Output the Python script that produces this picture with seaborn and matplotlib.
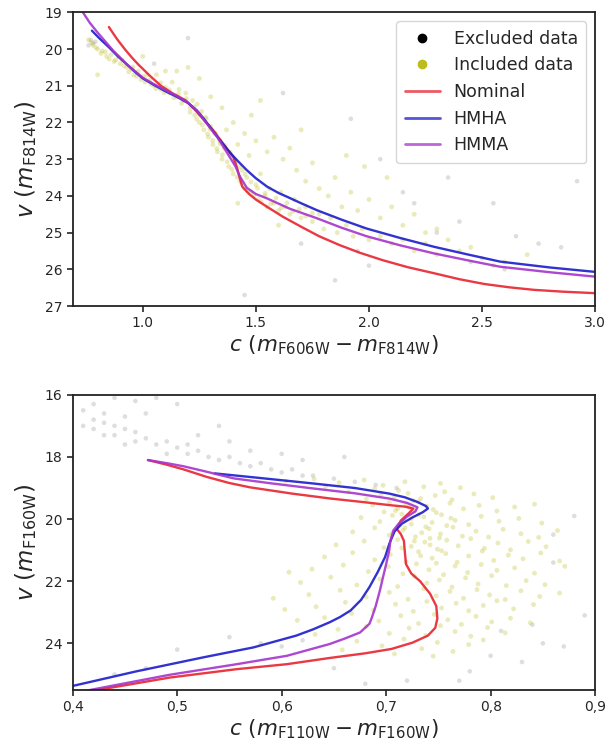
import numpy as np
import matplotlib
matplotlib.use("Agg")
import matplotlib.pyplot as plt
from matplotlib.lines import Line2D
from matplotlib.ticker import FuncFormatter
import seaborn as sns

# --- isochrones, top panel (F606W-F814W vs F814W) ---
top_nominal_c = [0.85, 0.885, 0.92, 0.95, 0.98, 1.03, 1.08, 1.13, 1.19, 1.23, 1.27, 1.31, 1.34, 1.37, 1.40,
                 1.415, 1.43, 1.44, 1.47, 1.50, 1.55, 1.62, 1.70, 1.78, 1.87, 1.96, 2.06, 2.17, 2.29, 2.40,
                 2.51, 2.62, 2.73, 2.86, 3.0]
top_nominal_v = [19.4, 19.72, 20.0, 20.22, 20.42, 20.72, 21.0, 21.2, 21.4, 21.65, 21.93, 22.2, 22.45, 22.7, 22.94,
                 23.2, 23.55, 23.75, 23.95, 24.1, 24.30, 24.57, 24.84, 25.1, 25.34, 25.55, 25.75, 25.94, 26.11, 26.27,
                 26.40, 26.49, 26.56, 26.61, 26.65]
top_hmha_c = [0.775, 0.81, 0.85, 0.89, 0.93, 0.965, 1.0, 1.05, 1.1, 1.15, 1.2, 1.24, 1.27, 1.30, 1.33, 1.36,
              1.39, 1.42, 1.46, 1.50, 1.55, 1.60, 1.64, 1.70, 1.77, 1.88, 1.99, 2.14, 2.29, 2.44, 2.58, 2.8, 3.0]
top_hmha_v = [19.5, 19.72, 19.95, 20.2, 20.42, 20.62, 20.8, 20.98, 21.15, 21.3, 21.47, 21.68, 21.9, 22.15, 22.4, 22.63,
              22.85, 23.05, 23.3, 23.52, 23.75, 23.92, 24.03, 24.2, 24.39, 24.65, 24.89, 25.15, 25.39, 25.6, 25.79, 25.95, 26.07]
top_hmma_c = [0.735, 0.765, 0.80, 0.835, 0.87, 0.93, 0.965, 1.0, 1.05, 1.1, 1.15, 1.2, 1.24, 1.27, 1.30, 1.33,
              1.355, 1.38, 1.41, 1.43, 1.46, 1.50, 1.55, 1.65, 1.77, 1.88, 1.99, 2.14, 2.29, 2.44, 2.58, 2.8, 3.0]
top_hmma_v = [19.0, 19.28, 19.55, 19.8, 20.05, 20.42, 20.6, 20.78, 20.96, 21.12, 21.28, 21.46, 21.68, 21.93, 22.17, 22.4,
              22.65, 22.9, 23.2, 23.48, 23.78, 23.95, 24.07, 24.35, 24.61, 24.87, 25.10, 25.35, 25.57, 25.76, 25.93, 26.08, 26.20]

# --- isochrones, bottom panel (F110W-F160W vs F160W) ---
bot_nominal_c = [0.472, 0.49, 0.506, 0.528, 0.55, 0.570, 0.61, 0.647, 0.68, 0.703, 0.718, 0.726, 0.722, 0.714,
                 0.710, 0.714, 0.717, 0.718, 0.719, 0.724, 0.7325, 0.742, 0.748, 0.749, 0.747, 0.740, 0.725, 0.705,
                 0.68, 0.646, 0.605, 0.557, 0.493, 0.429, 0.415]
bot_nominal_v = [18.10, 18.25, 18.4, 18.64, 18.84, 18.98, 19.18, 19.34, 19.46, 19.55, 19.6, 19.66, 19.8, 20.05,
                 20.31, 20.48, 20.7, 21.1, 21.45, 21.75, 22.0, 22.4, 22.8, 23.2, 23.5, 23.75, 23.98, 24.18,
                 24.32, 24.47, 24.67, 24.83, 25.10, 25.47, 25.53]
bot_hmha_c = [0.536, 0.58, 0.629, 0.67, 0.703, 0.718, 0.730, 0.738, 0.740, 0.735, 0.725, 0.715, 0.708, 0.703,
              0.699, 0.692, 0.684, 0.676, 0.666, 0.656, 0.646, 0.630, 0.614, 0.573, 0.525, 0.461, 0.40]
bot_hmha_v = [18.53, 18.68, 18.85, 19.0, 19.18, 19.3, 19.45, 19.58, 19.66, 19.78, 19.95, 20.15, 20.4, 20.8,
              21.22, 21.7, 22.19, 22.6, 22.94, 23.15, 23.32, 23.55, 23.75, 24.13, 24.45, 24.90, 25.37]
bot_hmma_c = [0.472, 0.49, 0.506, 0.525, 0.554, 0.59, 0.629, 0.67, 0.703, 0.72, 0.730, 0.728, 0.720, 0.712,
              0.707, 0.704, 0.703, 0.700, 0.697, 0.694, 0.690, 0.686, 0.684, 0.675, 0.66, 0.646, 0.605,
              0.557, 0.493, 0.429, 0.412]
bot_hmma_v = [18.10, 18.2, 18.3, 18.45, 18.69, 18.85, 19.01, 19.17, 19.34, 19.48, 19.62, 19.75, 19.92, 20.15,
              20.36, 20.7, 21.0, 21.45, 21.87, 22.3, 22.8, 23.2, 23.37, 23.65, 23.85, 24.02, 24.40,
              24.67, 25.01, 25.42, 25.53]

# --- photometry, top panel ---
top_incl = np.array([
    [0.76, 19.75], [0.78, 19.9], [0.80, 20.0], [0.82, 20.05], [0.84, 20.2], [0.86, 20.15], [0.88, 20.3],
    [0.90, 20.4], [0.91, 20.3], [0.93, 20.5], [0.95, 20.55], [0.96, 20.7], [0.98, 20.6], [1.00, 20.75],
    [1.01, 20.9], [1.03, 20.85], [1.05, 21.0], [1.06, 20.7], [1.08, 21.1], [1.10, 21.05], [1.10, 20.6],
    [1.12, 21.2], [1.13, 20.9], [1.15, 21.3], [1.16, 21.1], [1.18, 21.4], [1.19, 21.2], [1.20, 20.5],
    [1.21, 21.6], [1.22, 21.4], [1.23, 21.8], [1.24, 21.5], [1.25, 22.0], [1.26, 21.7], [1.27, 22.2],
    [1.28, 21.9], [1.29, 22.4], [1.30, 22.1], [1.30, 21.3], [1.31, 22.6], [1.32, 22.3], [1.33, 22.8],
    [1.34, 22.5], [1.35, 23.0], [1.36, 22.7], [1.37, 22.2], [1.38, 23.2], [1.39, 22.9], [1.40, 23.4],
    [1.41, 23.1], [1.42, 22.6], [1.43, 23.6], [1.44, 23.3], [1.45, 23.8], [1.46, 23.5], [1.47, 22.9],
    [1.48, 23.9], [1.50, 23.7], [1.51, 24.1], [1.52, 23.4], [1.54, 24.0], [1.55, 24.3], [1.56, 23.8],
    [1.58, 24.2], [1.60, 24.4], [1.61, 23.9], [1.63, 24.3], [1.65, 24.5], [1.67, 24.1], [1.70, 24.6],
    [1.72, 24.3], [1.75, 24.7], [1.78, 24.5], [1.80, 24.9], [1.83, 24.6], [1.86, 25.0], [1.90, 24.8],
    [1.93, 25.1], [1.97, 24.9], [2.00, 25.2], [2.05, 25.1], [2.10, 25.3], [2.15, 25.2], [2.20, 25.5],
    [2.25, 25.3], [2.30, 25.6], [2.40, 25.5], [2.50, 25.7], [2.60, 25.8],
    [1.35, 21.6], [1.40, 22.0], [1.45, 22.3], [1.50, 22.5], [1.48, 21.8], [1.55, 22.8], [1.58, 22.4],
    [1.62, 23.0], [1.65, 22.7], [1.68, 23.3], [1.72, 23.6], [1.75, 23.1], [1.78, 23.8], [1.82, 24.0],
    [1.85, 23.5], [1.88, 24.3], [1.92, 23.9], [1.95, 24.4], [2.00, 24.1], [2.05, 24.6], [2.10, 24.3],
    [2.15, 24.8], [2.20, 24.5], [2.25, 25.0], [2.30, 24.9], [2.35, 25.2], [1.70, 22.2], [1.90, 22.9],
    [2.08, 23.5], [1.25, 20.8], [1.15, 20.6], [1.00, 20.2], [0.80, 20.7], [1.42, 24.2], [1.60, 24.8],
    [2.45, 25.4], [2.55, 25.9], [2.70, 25.6], [1.52, 21.4], [1.98, 23.2],
    [0.772, 19.82], [0.793, 19.96], [0.815, 20.12], [0.834, 20.08], [0.851, 20.27], [0.873, 20.34],
    [0.892, 20.21], [0.917, 20.46], [0.938, 20.62], [0.956, 20.49], [0.973, 20.74], [0.992, 20.83],
    [1.017, 20.71], [1.036, 20.96], [1.058, 21.08], [1.079, 20.92], [1.094, 21.19], [1.117, 21.11],
    [1.137, 21.33], [1.158, 21.22], [1.171, 21.48], [1.193, 21.35], [1.209, 21.72], [1.226, 21.58],
    [1.238, 21.91], [1.252, 21.79], [1.263, 22.07], [1.277, 21.86], [1.286, 22.31], [1.297, 22.18],
    [1.309, 22.49], [1.318, 22.29], [1.327, 22.71], [1.341, 22.58], [1.352, 22.88], [1.364, 22.63],
    [1.373, 23.07], [1.386, 22.81], [1.394, 23.28], [1.408, 23.02], [1.417, 23.49], [1.429, 23.21],
    [1.438, 23.67], [1.452, 23.41], [1.463, 23.86], [1.478, 23.62], [1.492, 23.99], [1.507, 23.79],
    [1.523, 24.16], [1.541, 23.93], [1.566, 24.21], [1.589, 24.06], [1.612, 24.33], [1.638, 24.19],
    [1.664, 24.42], [1.692, 24.36], [1.721, 24.55], [1.749, 24.47],
])
top_excl = np.array([
    [0.77, 19.75], [0.78, 19.85], [0.79, 19.8], [0.76, 19.9], [1.92, 21.9], [1.62, 21.2], [2.05, 23.0],
    [2.15, 23.9], [2.35, 23.5], [2.55, 24.2], [2.92, 23.6], [2.65, 25.1], [2.85, 25.4], [2.45, 25.8],
    [2.30, 25.0], [2.00, 25.9], [1.85, 26.3], [1.45, 26.7], [2.75, 25.3], [2.20, 24.2], [1.95, 25.5],
    [2.60, 26.0], [2.40, 24.7], [1.70, 25.3], [1.20, 19.7], [1.05, 20.4],
])

# --- photometry, bottom panel ---
bot_incl = np.array([
    [0.604, 18.78], [0.631, 18.71], [0.655, 18.83], [0.679, 18.74], [0.697, 18.91], [0.718, 18.80],
    [0.736, 18.96], [0.752, 18.85], [0.771, 18.99], [0.642, 18.95], [0.689, 19.02], [0.712, 19.08],
    [0.664, 19.13], [0.695, 19.21], [0.708, 19.29], [0.721, 19.17], [0.733, 19.34], [0.747, 19.24],
    [0.763, 19.38], [0.784, 19.19], [0.802, 19.31], [0.681, 19.36], [0.726, 19.41], [0.756, 19.12],
    [0.687, 19.55], [0.703, 19.47], [0.711, 19.66], [0.719, 19.52], [0.727, 19.73], [0.739, 19.58],
    [0.748, 19.79], [0.761, 19.49], [0.774, 19.67], [0.789, 19.56], [0.806, 19.74], [0.823, 19.61],
    [0.698, 19.77], [0.715, 19.84], [0.731, 19.44], [0.842, 19.52],
    [0.676, 19.95], [0.694, 20.08], [0.706, 19.88], [0.717, 20.02], [0.724, 20.16], [0.736, 19.93],
    [0.744, 20.11], [0.753, 19.86], [0.766, 20.04], [0.779, 20.18], [0.791, 19.91], [0.808, 20.07],
    [0.827, 19.98], [0.849, 20.13], [0.713, 20.19], [0.758, 20.21],
    [0.668, 20.41], [0.689, 20.28], [0.703, 20.52], [0.716, 20.36], [0.728, 20.57], [0.741, 20.31],
    [0.752, 20.48], [0.764, 20.26], [0.773, 20.55], [0.786, 20.39], [0.798, 20.58], [0.812, 20.33],
    [0.829, 20.47], [0.846, 20.59], [0.864, 20.37], [0.734, 20.44],
    [0.652, 20.83], [0.679, 20.71], [0.698, 20.92], [0.711, 20.66], [0.724, 20.88], [0.737, 20.74],
    [0.749, 20.97], [0.758, 20.68], [0.769, 20.86], [0.781, 20.63], [0.794, 20.94], [0.807, 20.77],
    [0.819, 20.99], [0.836, 20.72], [0.853, 20.89], [0.742, 20.62],
    [0.641, 21.22], [0.668, 21.08], [0.689, 21.31], [0.704, 21.14], [0.719, 21.37], [0.731, 21.05],
    [0.744, 21.26], [0.757, 21.11], [0.768, 21.39], [0.779, 21.19], [0.792, 21.03], [0.803, 21.33],
    [0.817, 21.16], [0.831, 21.28], [0.848, 21.09], [0.866, 21.35], [0.753, 21.02],
    [0.629, 21.61], [0.659, 21.48], [0.683, 21.69], [0.702, 21.53], [0.716, 21.76], [0.729, 21.44],
    [0.741, 21.63], [0.755, 21.79], [0.766, 21.51], [0.778, 21.72], [0.791, 21.46], [0.806, 21.65],
    [0.823, 21.57], [0.842, 21.74], [0.871, 21.52], [0.748, 21.42],
    [0.618, 22.04], [0.647, 21.87], [0.672, 22.12], [0.694, 21.93], [0.711, 22.17], [0.727, 21.84],
    [0.739, 22.06], [0.751, 21.96], [0.763, 22.19], [0.776, 21.89], [0.788, 22.09], [0.801, 21.82],
    [0.815, 22.14], [0.834, 21.98], [0.852, 22.11], [0.607, 21.71],
    [0.626, 22.43], [0.656, 22.29], [0.681, 22.51], [0.703, 22.36], [0.721, 22.58], [0.736, 22.24],
    [0.748, 22.47], [0.761, 22.33], [0.774, 22.55], [0.787, 22.27], [0.799, 22.44], [0.814, 22.59],
    [0.829, 22.31], [0.847, 22.49], [0.866, 22.38], [0.592, 22.55],
    [0.633, 22.82], [0.661, 22.68], [0.688, 22.93], [0.709, 22.74], [0.726, 22.97], [0.739, 22.65],
    [0.753, 22.86], [0.767, 22.71], [0.779, 22.95], [0.793, 22.78], [0.806, 22.63], [0.822, 22.89],
    [0.841, 22.75], [0.603, 22.91],
    [0.641, 23.17], [0.667, 23.04], [0.693, 23.28], [0.714, 23.11], [0.731, 23.36], [0.746, 23.07],
    [0.759, 23.24], [0.772, 23.39], [0.786, 23.13], [0.801, 23.31], [0.819, 23.19], [0.838, 23.34],
    [0.615, 23.26],
    [0.654, 23.55], [0.681, 23.46], [0.703, 23.68], [0.722, 23.51], [0.738, 23.74], [0.752, 23.43],
    [0.766, 23.62], [0.781, 23.77], [0.797, 23.49], [0.814, 23.66], [0.632, 23.71],
    [0.672, 23.93], [0.696, 24.08], [0.717, 23.86], [0.734, 24.17], [0.749, 23.97], [0.764, 24.26],
    [0.779, 24.04], [0.793, 23.89], [0.708, 24.34], [0.745, 24.41], [0.658, 24.21],
    [0.722, 19.62], [0.709, 19.73], [0.731, 19.86], [0.718, 20.28], [0.706, 20.44], [0.727, 20.71],
    [0.745, 19.69], [0.738, 20.25], [0.715, 20.93], [0.733, 21.18], [0.762, 19.97], [0.751, 20.61],
    [0.724, 19.99], [0.742, 20.83],
])
bot_excl = np.array([
    [0.41, 16.5], [0.42, 16.8], [0.42, 17.1], [0.43, 16.9], [0.44, 17.0], [0.44, 17.3], [0.45, 17.1],
    [0.46, 17.2], [0.46, 17.5], [0.47, 17.4], [0.48, 17.6], [0.49, 17.5], [0.50, 17.7], [0.51, 17.9],
    [0.52, 17.8], [0.53, 18.0], [0.54, 18.1], [0.55, 18.0], [0.56, 18.2], [0.57, 18.3], [0.58, 18.2],
    [0.59, 18.4], [0.60, 18.5], [0.61, 18.4], [0.62, 18.6], [0.63, 18.6], [0.65, 18.7], [0.67, 18.8],
    [0.69, 18.9], [0.71, 19.0], [0.42, 16.3], [0.44, 16.1], [0.46, 16.2], [0.48, 16.1], [0.50, 16.3],
    [0.47, 16.6], [0.43, 16.6], [0.45, 16.7], [0.52, 17.3], [0.55, 17.5], [0.57, 17.8], [0.60, 17.9],
    [0.62, 18.1], [0.66, 18.0], [0.54, 17.0], [0.45, 17.6], [0.49, 17.9], [0.41, 17.0], [0.43, 17.3],
    [0.51, 17.6], [0.88, 19.9], [0.86, 20.5], [0.89, 23.1], [0.87, 24.1], [0.85, 24.0], [0.83, 24.6],
    [0.78, 24.9], [0.77, 25.2], [0.65, 24.8], [0.55, 23.8], [0.58, 24.0], [0.60, 24.1], [0.62, 23.9],
    [0.50, 24.2], [0.44, 25.0], [0.47, 24.8], [0.80, 24.4], [0.84, 23.4], [0.68, 25.3], [0.72, 25.2],
    [0.81, 23.6], [0.86, 21.4],
])

RED = "#e8232e"
BLUE = "#1c1ccc"
PURPLE = "#a534cc"
INCL = "#bcbc1c"

sns.set_style("ticks")
plt.rcParams["font.family"] = ["DejaVu Sans"]
plt.rcParams["mathtext.fontset"] = "dejavusans"

fig = plt.figure(figsize=(6.11, 7.53), dpi=100)
ax1 = fig.add_axes([0.119, 0.5936, 0.855, 0.390])
ax2 = fig.add_axes([0.119, 0.0837, 0.855, 0.392])


def draw_panel(ax, incl, excl, curves):
    sns.scatterplot(x=excl[:, 0], y=excl[:, 1], ax=ax, color="black", alpha=0.13, s=11,
                    edgecolor="none", legend=False)
    sns.scatterplot(x=incl[:, 0], y=incl[:, 1], ax=ax, color=INCL, alpha=0.3, s=12,
                    edgecolor="none", legend=False)
    for cx, cy, col in curves:
        sns.lineplot(x=cx, y=cy, ax=ax, sort=False, estimator=None, color=col, lw=1.7, alpha=0.9)
    for sp in ax.spines.values():
        sp.set_linewidth(1.3)
        sp.set_color("#222222")
    ax.tick_params(labelsize=10, length=4, width=1.2)


draw_panel(ax1, top_incl, top_excl,
           [(top_nominal_c, top_nominal_v, RED), (top_hmha_c, top_hmha_v, BLUE), (top_hmma_c, top_hmma_v, PURPLE)])
ax1.set_xlim(0.69, 3.0)
ax1.set_ylim(27, 19)
ax1.set_xticks([1.0, 1.5, 2.0, 2.5, 3.0])
ax1.set_yticks(range(19, 28))
ax1.set_xlabel(r"$c\ (m_{\rm F606W} - m_{\rm F814W})$", fontsize=15.5, labelpad=2)
ax1.set_ylabel(r"$v\ (m_{\rm F814W})$", fontsize=16.5, labelpad=4)

handles = [
    Line2D([], [], ls="none", marker="o", color="black", markersize=6),
    Line2D([], [], ls="none", marker="o", color=INCL, markersize=6),
    Line2D([], [], color=RED, lw=2, alpha=0.75),
    Line2D([], [], color=BLUE, lw=2, alpha=0.75),
    Line2D([], [], color=PURPLE, lw=2, alpha=0.75),
]
ax1.legend(handles, ["Excluded data", "Included data", "Nominal", "HMHA", "HMMA"],
           loc="upper right", fontsize=12.5, frameon=True, borderpad=0.5, handlelength=2.0)

draw_panel(ax2, bot_incl, bot_excl,
           [(bot_nominal_c, bot_nominal_v, RED), (bot_hmha_c, bot_hmha_v, BLUE), (bot_hmma_c, bot_hmma_v, PURPLE)])
ax2.set_xlim(0.4, 0.9)
ax2.set_ylim(25.5, 16)
ax2.set_xticks([0.4, 0.5, 0.6, 0.7, 0.8, 0.9])
ax2.set_yticks([16, 18, 20, 22, 24])
ax2.xaxis.set_major_formatter(FuncFormatter(lambda v, p: f"{v:.1f}".replace(".", ",")))
ax2.set_xlabel(r"$c\ (m_{\rm F110W} - m_{\rm F160W})$", fontsize=15.5, labelpad=2)
ax2.set_ylabel(r"$v\ (m_{\rm F160W})$", fontsize=16.5, labelpad=4)

fig.savefig("out.png", dpi=100)
